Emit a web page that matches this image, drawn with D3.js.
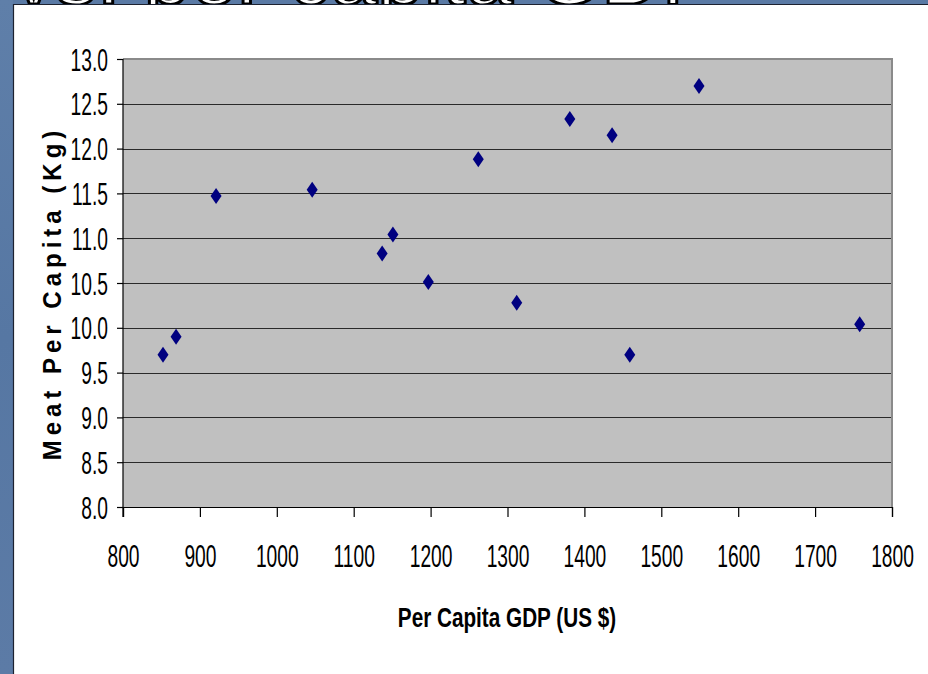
<!DOCTYPE html>
<html>
<head>
<meta charset="utf-8">
<script src="https://cdn.jsdelivr.net/npm/d3@7"></script>
<style>
  html, body { margin: 0; padding: 0; background: #ffffff; }
  svg { display: block; }
  text { font-family: "Liberation Sans", Arial, sans-serif; }
</style>
</head>
<body>
<svg id="chart" width="928" height="674"></svg>
<script>
// Per capita GDP (US $) and meat consumption per capita (kg)
const gdp  = [852, 869, 921, 1046, 1137, 1151, 1197, 1262, 1312, 1381, 1436, 1459, 1549, 1758];
const meat = [9.70, 9.90, 11.47, 11.54, 10.83, 11.04, 10.51, 11.88, 10.28, 12.33, 12.15, 9.70, 12.70, 10.04];

const xTicks = [800, 900, 1000, 1100, 1200, 1300, 1400, 1500, 1600, 1700, 1800];
const yTicks = [8.0, 8.5, 9.0, 9.5, 10.0, 10.5, 11.0, 11.5, 12.0, 12.5, 13.0];

const titleText = "Meat per capita vs. per capita GDP";
const xTitle = "Per Capita GDP (US $)";
const yTitle = "Meat Per Capita (Kg)";

const svg = d3.select("#chart");
const W = 928, H = 674;

// slide frame: blue strips along top and left edges
const grad = svg.append("defs").append("linearGradient")
  .attr("id", "slideBlue").attr("x1", 0).attr("y1", 0).attr("x2", 0).attr("y2", 1);
grad.append("stop").attr("offset", "0%").attr("stop-color", "#5f7fa9");
grad.append("stop").attr("offset", "50%").attr("stop-color", "#5677a3");
grad.append("stop").attr("offset", "100%").attr("stop-color", "#5c7ba6");

svg.append("defs").append("clipPath").attr("id", "topStrip")
  .append("rect").attr("x", 0).attr("y", 0).attr("width", W).attr("height", 4.5);

svg.append("rect").attr("x", 0).attr("y", 0).attr("width", W).attr("height", 5).attr("fill", "#5a7aa5");
svg.append("rect").attr("x", 0).attr("y", 0).attr("width", 13).attr("height", H).attr("fill", "url(#slideBlue)");

// slide title (only its lower edge falls inside the frame)
svg.append("g").attr("clip-path", "url(#topStrip)")
  .append("text")
  .attr("x", 718).attr("y", 4)
  .attr("text-anchor", "end")
  .attr("font-size", 84)
  .attr("fill", "#ffffff")
  .attr("stroke", "#000000")
  .attr("stroke-width", 3)
  .text(titleText);

svg.append("line").attr("x1", 13).attr("x2", W).attr("y1", 4.5).attr("y2", 4.5)
  .attr("stroke", "#1d2230").attr("stroke-width", 1.2);
svg.append("line").attr("x1", 13.5).attr("x2", 13.5).attr("y1", 4).attr("y2", H)
  .attr("stroke", "#1d2230").attr("stroke-width", 1.2);

// scales
const x = d3.scaleLinear().domain([800, 1800]).range([123, 892]);
const y = d3.scaleLinear().domain([8, 13]).range([507, 59]);

// plot area
svg.append("rect")
  .attr("x", x(800)).attr("y", y(13))
  .attr("width", x(1800) - x(800)).attr("height", y(8) - y(13))
  .attr("fill", "#c0c0c0");

// horizontal gridlines
svg.append("g").selectAll("line")
  .data(yTicks.filter(v => v > 8 && v < 13))
  .join("line")
  .attr("x1", x(800)).attr("x2", x(1800))
  .attr("y1", d => Math.round(y(d)) + 0.5).attr("y2", d => Math.round(y(d)) + 0.5)
  .attr("stroke", "#2a2a2a").attr("stroke-width", 1);

// top and right plot border
svg.append("path")
  .attr("d", `M${x(800)},${y(13)} H${x(1800)} V${y(8)}`)
  .attr("fill", "none").attr("stroke", "#8a8a8a").attr("stroke-width", 2);

// axes
const yAxis = d3.axisLeft(y).tickValues(yTicks).tickSize(6).tickFormat("");
const xAxis = d3.axisBottom(x).tickValues(xTicks).tickSize(10).tickFormat("");

const gy = svg.append("g").attr("transform", `translate(${x(800)},0)`).call(yAxis);
const gx = svg.append("g").attr("transform", `translate(0,${y(8)})`).call(xAxis);
[gx, gy].forEach(g => {
  g.select(".domain").attr("stroke", "#000").attr("stroke-width", 1.2);
  g.selectAll(".tick line").attr("stroke", "#000").attr("stroke-width", 1.2);
});
// extend y axis line down to the tick length
gy.select(".domain").attr("d", `M0,${y(13)}V${y(8) + 10}`);

gy.selectAll(".tick").append("text")
  .attr("transform", "translate(-15,11) scale(0.62,1)")
  .attr("text-anchor", "end")
  .attr("font-size", 31)
  .attr("fill", "#000")
  .text(d => d3.format(".1f")(d));

gx.selectAll(".tick").append("text")
  .attr("transform", "translate(0,60) scale(0.62,1)")
  .attr("text-anchor", "middle")
  .attr("font-size", 31)
  .attr("fill", "#000")
  .text(d => d);

// axis titles
svg.append("text")
  .attr("transform", "translate(507,627) scale(0.74,1)")
  .attr("text-anchor", "middle")
  .attr("font-size", 28)
  .attr("font-weight", "bold")
  .attr("fill", "#000")
  .text(xTitle);

svg.append("text")
  .attr("transform", "translate(61,293) rotate(-90) scale(1,1.1)")
  .attr("text-anchor", "middle")
  .attr("font-size", 24)
  .attr("font-weight", "bold")
  .attr("letter-spacing", 5)
  .attr("fill", "#000")
  .text(yTitle);

// data markers: navy diamonds
const pts = gdp.map((g, i) => ({ g, m: meat[i] }));
svg.append("g").selectAll("path")
  .data(pts)
  .join("path")
  .attr("d", d => {
    const cx = x(d.g), cy = y(d.m);
    return `M${cx},${cy - 8}L${cx + 5.5},${cy}L${cx},${cy + 8}L${cx - 5.5},${cy}Z`;
  })
  .attr("fill", "#000080");
</script>
</body>
</html>
